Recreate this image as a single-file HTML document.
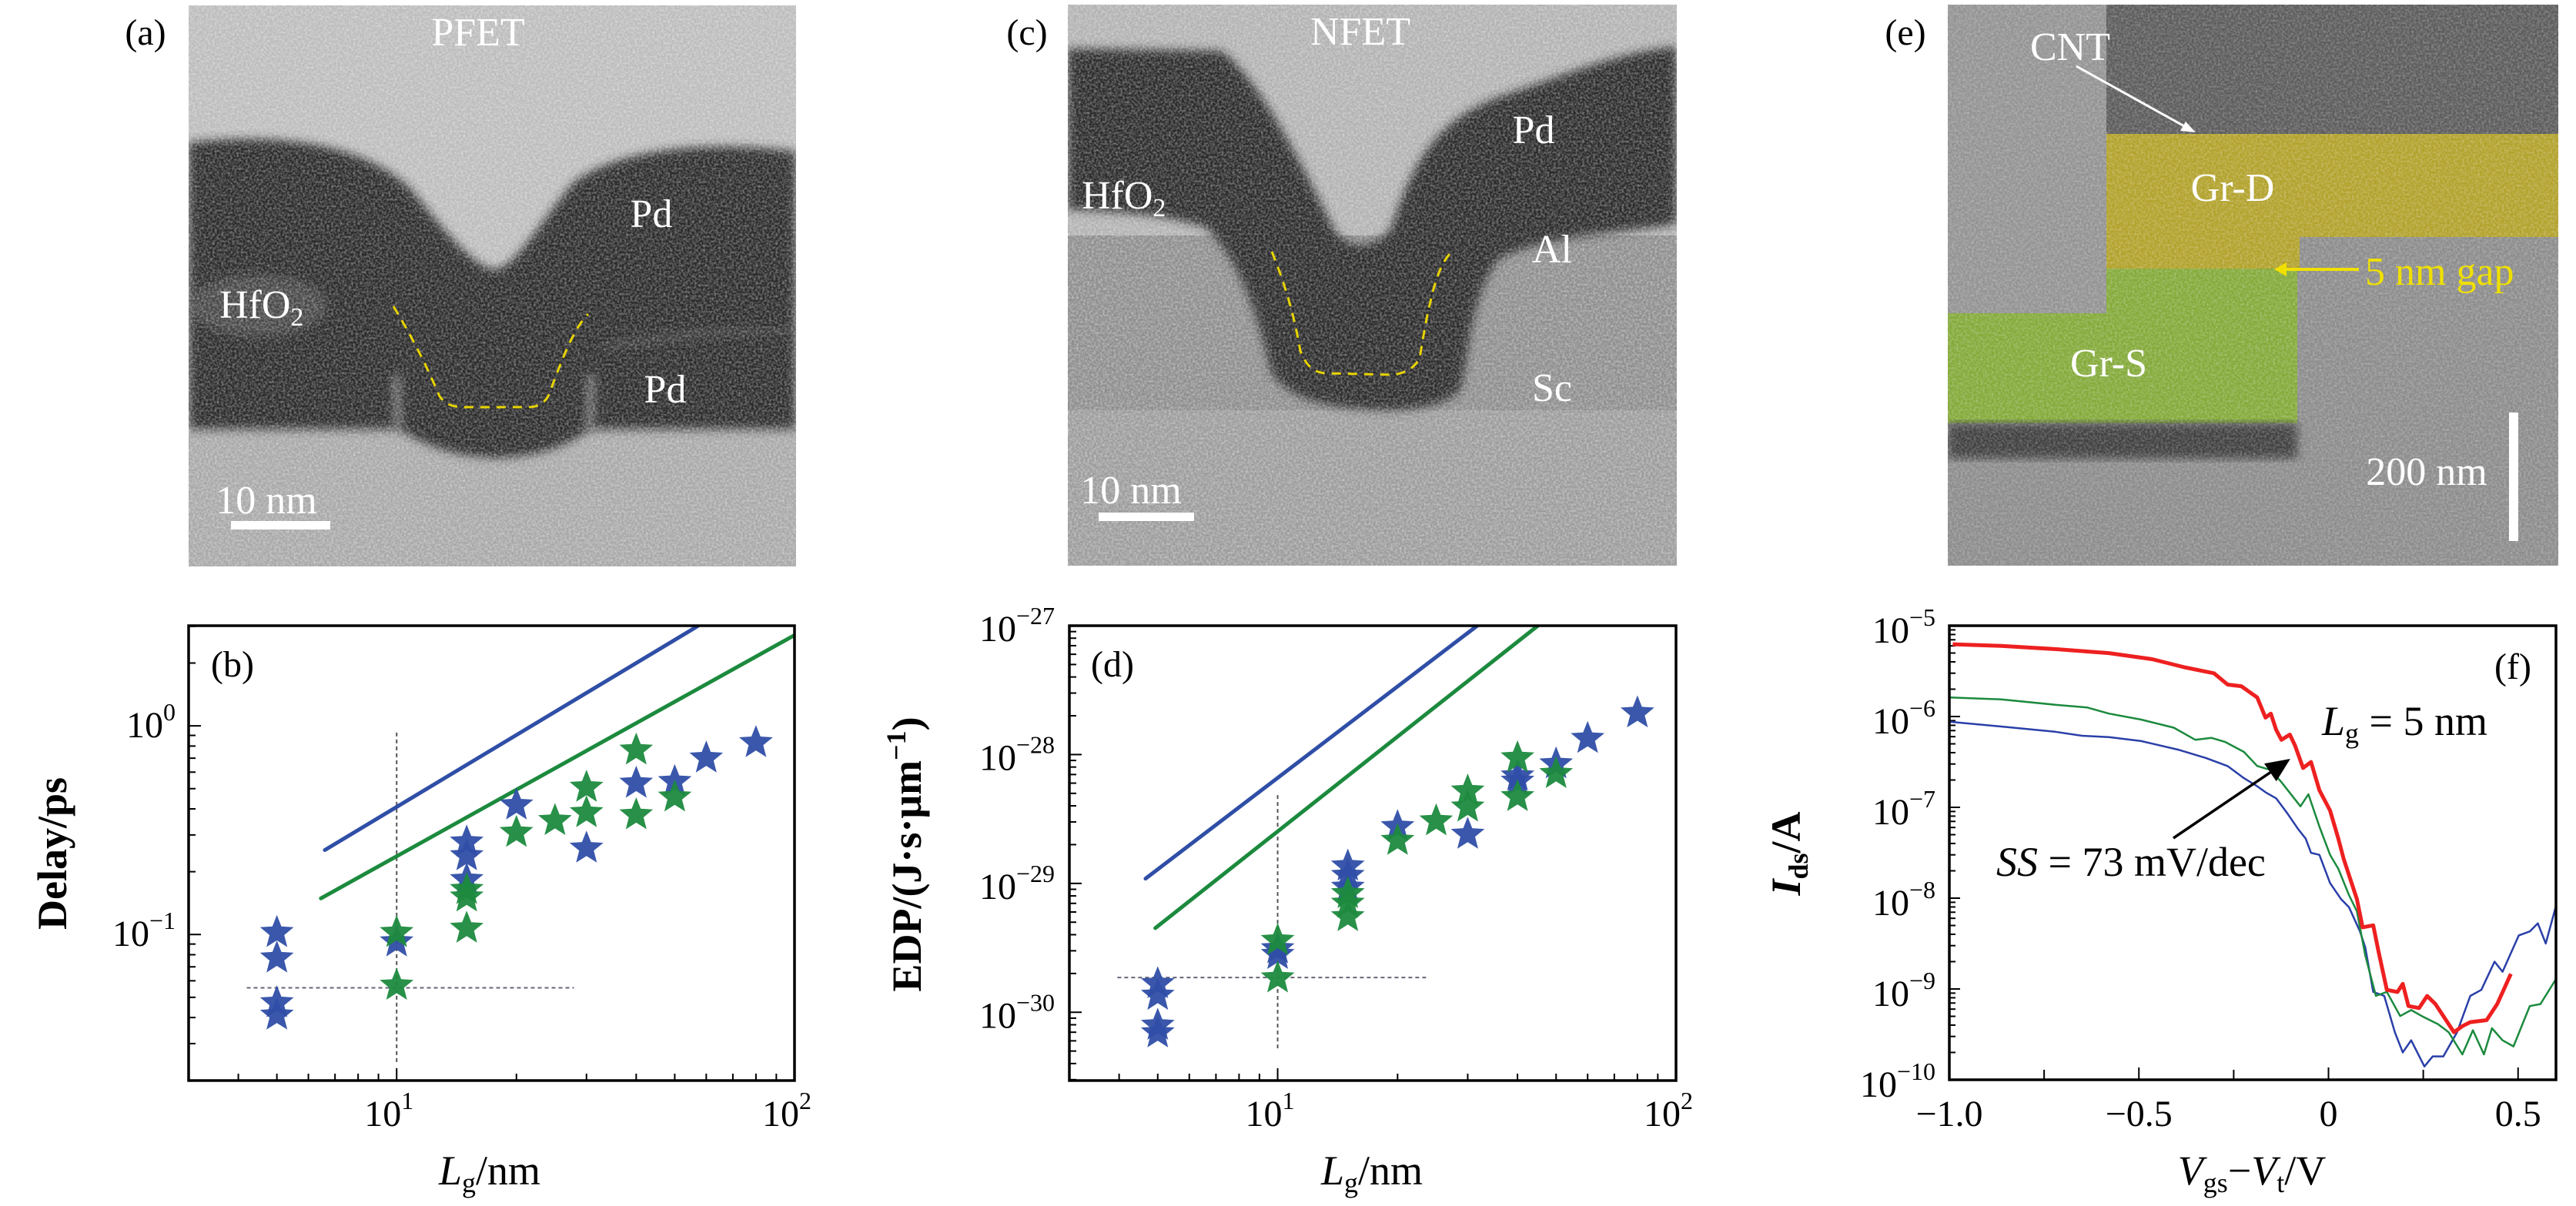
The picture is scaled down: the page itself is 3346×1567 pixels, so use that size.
<!DOCTYPE html>
<html><head><meta charset="utf-8"><style>
html,body{margin:0;padding:0;background:#fff;}
svg{display:block;}
text{font-family:"Liberation Serif",serif;}
</style></head><body>
<svg id="fig" xmlns="http://www.w3.org/2000/svg" width="3346" height="1567" viewBox="0 0 3346 1567">
<defs>
<filter id="noise" x="0" y="0" width="100%" height="100%">
<feTurbulence type="fractalNoise" baseFrequency="0.35" numOctaves="2" seed="3"/>
<feColorMatrix type="matrix" values="0 0 0 0 1  0 0 0 0 1  0 0 0 0 1  0 0 0 1.6 -0.55"/>
</filter>
<filter id="blur6"><feGaussianBlur stdDeviation="6"/></filter>
<clipPath id="clipA"><rect x="0" y="0" width="789" height="729"/></clipPath>
<clipPath id="clipC"><rect x="0" y="0" width="791" height="729"/></clipPath>
<clipPath id="clipE"><rect x="0" y="0" width="793" height="729"/></clipPath>
<clipPath id="clipB"><rect x="245" y="813" width="787" height="591"/></clipPath>
<clipPath id="clipD"><rect x="1389" y="813" width="788" height="591"/></clipPath>
<clipPath id="clipF"><rect x="2532" y="813" width="788" height="590"/></clipPath>
<marker id="arrB" markerWidth="10" markerHeight="10" refX="8" refY="5" orient="auto" markerUnits="strokeWidth"><path d="M0,1 L9,5 L0,9 Z" fill="#000"/></marker>
</defs>

<!-- Panel (a) -->
<text x="189" y="58" font-size="48" text-anchor="middle">(a)</text>
<g transform="translate(245,7)" clip-path="url(#clipA)">
<rect width="789" height="729" fill="#bcbcbc"/>
<rect y="551" width="789" height="178" fill="#a8a8a8"/>
<path d="M0,178 C120,165 230,180 290,240 C330,290 370,340 397,343 C425,340 450,290 500,230 C560,185 680,175 789,190 L789,551 L523,551 C505,560 480,585 400,588 C320,585 295,560 270,551 L0,551 Z" fill="#2b2b2b" filter="url(#blur6)"/>
<ellipse cx="90" cy="390" rx="90" ry="40" fill="#5a5a5a" opacity="0.6" filter="url(#blur6)"/>
<path d="M540,445 C620,430 700,420 789,420" stroke="#555" stroke-width="10" fill="none" opacity="0.6" filter="url(#blur6)"/>
<path d="M270,480 L272,551 M523,480 L521,551" stroke="#9a9a9a" stroke-width="7" fill="none" filter="url(#blur6)"/>
<rect width="789" height="729" filter="url(#noise)" opacity="0.5"/>
<path d="M266,391 C290,430 310,470 326,508 C335,520 345,522 360,522 L441,522 C455,522 465,515 469,503 C485,460 500,420 519,401" stroke="#e8d400" stroke-width="3" stroke-dasharray="12,9" fill="none"/>
<text x="376" y="52" font-size="52" fill="#fff" text-anchor="middle">PFET</text>
<text x="601" y="288" font-size="52" fill="#fff" text-anchor="middle">Pd</text>
<text x="40" y="406" font-size="52" fill="#fff">HfO<tspan font-size="34" dy="10">2</tspan></text>
<text x="619" y="516" font-size="52" fill="#fff" text-anchor="middle">Pd</text>
<text x="101" y="660" font-size="52" fill="#fff" text-anchor="middle">10 nm</text>
<rect x="55" y="670" width="129" height="11" fill="#fff"/>
</g>

<!-- Panel (c) -->
<text x="1334" y="58" font-size="48" text-anchor="middle">(c)</text>
<g transform="translate(1387,6)" clip-path="url(#clipC)">
<rect width="791" height="729" fill="#8e8e8e"/>
<rect width="791" height="300" fill="#b2b2b2"/>
<rect y="527" width="791" height="202" fill="#9c9c9c"/>
<path d="M0,57 L200,60 C250,100 300,200 345,290 C360,320 400,320 420,290 C450,200 480,150 560,120 C650,90 720,60 791,55 L791,285 C700,300 620,300 560,330 C520,380 520,470 510,500 C490,525 430,530 380,525 C320,520 290,510 265,480 C250,420 230,340 180,290 C120,270 60,270 0,266 Z" fill="#2c2c2c" filter="url(#blur6)"/>
<rect width="791" height="729" filter="url(#noise)" opacity="0.5"/>
<path d="M265,321 C285,370 295,410 302,450 C310,470 320,479 338,479 L422,481 C440,479 452,470 457,459 C462,430 466,405 472,382 C478,355 486,335 496,324" stroke="#e8d400" stroke-width="3" stroke-dasharray="12,9" fill="none"/>
<text x="380" y="52" font-size="52" fill="#fff" text-anchor="middle">NFET</text>
<text x="605" y="180" font-size="52" fill="#fff" text-anchor="middle">Pd</text>
<text x="18" y="265" font-size="52" fill="#fff">HfO<tspan font-size="34" dy="10">2</tspan></text>
<text x="629" y="335" font-size="52" fill="#fff" text-anchor="middle">Al</text>
<text x="629" y="515" font-size="52" fill="#fff" text-anchor="middle">Sc</text>
<text x="82" y="648" font-size="52" fill="#fff" text-anchor="middle">10 nm</text>
<rect x="40" y="660" width="124" height="11" fill="#fff"/>
</g>

<!-- Panel (e) -->
<text x="2475" y="58" font-size="48" text-anchor="middle">(e)</text>
<g transform="translate(2530,6)" clip-path="url(#clipE)">
<rect width="793" height="729" fill="#8c8c8c"/>
<rect x="206" width="587" height="168" fill="#5c5c5c"/>
<rect x="0" width="206" height="401" fill="#939393"/>
<path d="M206,168 L793,168 L793,302 L457,302 L457,343 L206,343 Z" fill="#b2a22c"/>
<path d="M206,343 L454,343 L454,544 L0,544 L0,401 L206,401 Z" fill="#84aa3a"/>
<path d="M0,544 L454,544 L454,590 L0,590 Z" fill="#3f3f3f" filter="url(#blur6)"/>
<rect width="793" height="729" filter="url(#noise)" opacity="0.35"/>
<text x="159" y="72" font-size="52" fill="#fff" text-anchor="middle">CNT</text>
<line x1="167" y1="80" x2="318" y2="164" stroke="#fff" stroke-width="3"/>
<path d="M322,166 L302,164 L309,152 Z" fill="#fff"/>
<text x="370" y="255" font-size="52" fill="#fff" text-anchor="middle">Gr-D</text>
<text x="209" y="483" font-size="52" fill="#fff" text-anchor="middle">Gr-S</text>
<line x1="534" y1="344" x2="432" y2="344" stroke="#f0e000" stroke-width="4"/>
<path d="M424,344 L440,335 L440,353 Z" fill="#f0e000"/>
<text x="542" y="364" font-size="52" fill="#f0e000">5 nm gap</text>
<text x="622" y="624" font-size="52" fill="#fff" text-anchor="middle">200 nm</text>
<rect x="729" y="530" width="12" height="167" fill="#fff"/>
</g>

<g id="chartB"></g>
<g id="chartD"></g>
<g id="chartF"></g>
</svg>
<script>
// ---- Panel (b) data ----
const delayBlueLg = [5,5,5,5,10,15,15,15,20,30,40,50,60,80];
const delayBlueVal = [0.102,0.077,0.047,0.041,0.092,0.277,0.238,0.183,0.417,0.259,0.53,0.54,0.70,0.83];
const delayGreenLg = [10,10,15,15,15,20,25,30,30,40,40,50];
const delayGreenVal = [0.102,0.057,0.164,0.151,0.107,0.308,0.351,0.507,0.383,0.764,0.374,0.455];
const delayBlueFitLg = [6.6,57];
const delayBlueFitVal = [0.254,3.0];
const delayGreenFitLg = [6.45,100];
const delayGreenFitVal = [0.149,2.72];
const delayGuideVLg = [10,10];
const delayGuideVVal = [0.0245,0.93];
const delayGuideHLg = [4.2,27.9];
const delayGuideHVal = [0.0555,0.0555];
const delayYTickExp = [-1,0];
const delayXTickExp = [1,2];
// ---- Panel (d) data ----
const edpBlueLg = [5,5,5,5,10,10,15,15,15,20,30,40,40,50,60,80];
const edpBlueVal = [1.66e-30,1.35e-30,7.9e-31,6.9e-31,3.1e-30,2.8e-30,1.36e-29,1.15e-29,9.3e-30,2.75e-29,2.4e-29,6.8e-29,6.2e-29,8.45e-29,1.33e-28,2.1e-28];
const edpGreenLg = [10,10,15,15,15,20,25,30,30,40,40,50];
const edpGreenVal = [3.6e-30,1.84e-30,8.3e-30,7.0e-30,5.5e-30,2.15e-29,3.05e-29,5.2e-29,3.9e-29,9.4e-29,4.7e-29,7.1e-29];
const edpBlueFitLg = [4.66,31.7];
const edpBlueFitVal = [1.09e-29,1e-27];
const edpGreenFitLg = [4.93,45];
const edpGreenFitVal = [4.5e-30,1e-27];
const edpGuideVLg = [10,10];
const edpGuideVVal = [5.25e-31,5.0e-29];
const edpGuideHLg = [3.96,23.6];
const edpGuideHVal = [1.86e-30,1.86e-30];
const edpYTickExp = [-30,-29,-28,-27];
const edpXTickExp = [1,2];
// ---- Panel (f) data (V, log10 I) ----
const idsRedV = [-0.991,-0.863,-0.721,-0.579,-0.465,-0.380,-0.302,-0.266,-0.230,-0.188,-0.166,-0.152,-0.138,-0.124,-0.102,-0.088,-0.067,-0.046,-0.024,0.004,0.026,0.040,0.061,0.075,0.090,0.118,0.132,0.154,0.182,0.196,0.211,0.239,0.260,0.282,0.310,0.331,0.353,0.374,0.417,0.445,0.481];
const idsRedLog = [-5.204,-5.222,-5.258,-5.302,-5.369,-5.458,-5.524,-5.648,-5.666,-5.790,-6.012,-5.968,-6.146,-6.257,-6.199,-6.323,-6.567,-6.501,-6.812,-7.034,-7.345,-7.567,-7.833,-8.010,-8.321,-8.299,-8.588,-9.010,-9.033,-8.944,-9.188,-9.210,-9.077,-9.166,-9.343,-9.476,-9.409,-9.365,-9.343,-9.165,-8.834];
const idsGreenV = [-1.0,-0.863,-0.721,-0.636,-0.579,-0.494,-0.408,-0.351,-0.309,-0.273,-0.223,-0.188,-0.152,-0.124,-0.074,-0.053,-0.024,0.004,0.026,0.054,0.075,0.097,0.125,0.154,0.189,0.218,0.246,0.289,0.317,0.353,0.381,0.410,0.431,0.459,0.488,0.531,0.559,0.602];
const idsGreenLog = [-5.790,-5.812,-5.870,-5.901,-5.968,-6.034,-6.123,-6.257,-6.235,-6.279,-6.390,-6.545,-6.590,-6.723,-6.989,-6.856,-7.212,-7.522,-7.677,-7.966,-8.144,-8.632,-9.076,-9.032,-9.298,-9.232,-9.298,-9.387,-9.476,-9.720,-9.454,-9.720,-9.432,-9.565,-9.632,-9.188,-9.166,-8.877];
const idsBlueV = [-1.0,-0.863,-0.721,-0.650,-0.579,-0.494,-0.394,-0.323,-0.266,-0.223,-0.188,-0.166,-0.138,-0.110,-0.081,-0.060,-0.046,-0.024,0.004,0.033,0.054,0.083,0.097,0.118,0.147,0.175,0.196,0.218,0.253,0.275,0.303,0.339,0.374,0.403,0.438,0.459,0.502,0.531,0.552,0.573,0.602];
const idsBlueLog = [-6.057,-6.110,-6.168,-6.212,-6.226,-6.270,-6.368,-6.457,-6.546,-6.679,-6.768,-6.834,-6.901,-7.057,-7.234,-7.345,-7.501,-7.523,-7.833,-8.010,-8.099,-8.366,-8.543,-9.032,-9.076,-9.476,-9.698,-9.565,-9.853,-9.742,-9.742,-9.476,-9.076,-9.010,-8.699,-8.810,-8.410,-8.366,-8.277,-8.499,-8.055];
const idsXTickVals = [-1.0,-0.5,0,0.5];
const idsXTickLabels = ["\u22121.0","\u22120.5","0","0.5"];
const idsXMinor = [-0.75,-0.25,0.25];
const idsYTickExp = [-10,-9,-8,-7,-6,-5];

const NS = 'http://www.w3.org/2000/svg';
const BLUE = '#2f4ea6', GREEN = '#1c8a3e';
function mk(tag, attrs, parent){
  const e = document.createElementNS(NS, tag);
  for (const k in attrs) e.setAttribute(k, attrs[k]);
  parent.appendChild(e);
  return e;
}
function starPath(cx, cy, R, r){
  let d = '';
  for (let i = 0; i < 10; i++){
    const a = -Math.PI/2 + i*Math.PI/5;
    const rr = i % 2 ? r : R;
    d += (i ? 'L' : 'M') + (cx + rr*Math.cos(a)).toFixed(1) + ',' + (cy + rr*Math.sin(a)).toFixed(1);
  }
  return d + 'Z';
}
function logScale(d0, d1, r0, r1){ return v => r0 + (Math.log10(v) - d0)/(d1 - d0)*(r1 - r0); }
function linScale(d0, d1, r0, r1){ return v => r0 + (v - d0)/(d1 - d0)*(r1 - r0); }
function powLabel(parent, x, y, exp, anchor){
  const t = mk('text', {x:x, y:y, 'font-size':48, 'text-anchor':anchor}, parent);
  
  
  t.appendChild(document.createTextNode('10'));
  const s = mk('tspan', {dy:-22, 'font-size':32}, t);
  s.textContent = exp < 0 ? '\u2212' + (-exp) : String(exp);
  return t;
}

function logChart(g, box, xd, yd, cfg){
  const sx = logScale(xd[0], xd[1], box.x0, box.x1);
  const sy = logScale(yd[0], yd[1], box.y1, box.y0);
  for (let e = Math.floor(xd[0]); e <= Math.ceil(xd[1]); e++){
    for (let m = 1; m < 10; m++){
      const v = m*Math.pow(10, e);
      const lv = Math.log10(v);
      if (lv < xd[0] - 1e-6 || lv > xd[1] + 1e-6) continue;
      const x = sx(v);
      const len = m === 1 ? 16 : 9;
      const tk = mk('line', {x1:x, x2:x, y1:box.y1, y2:box.y1 - len, stroke:'#000', 'stroke-width':2}, g);
      
      
    }
  }
  for (let e = Math.floor(yd[0]); e <= Math.ceil(yd[1]); e++){
    for (let m = 1; m < 10; m++){
      const lv = Math.log10(m) + e;
      if (lv < yd[0] - 1e-6 || lv > yd[1] + 1e-6) continue;
      const y = box.y1 + (lv - yd[0])/(yd[1] - yd[0])*(box.y0 - box.y1);
      const len = m === 1 ? 16 : 9;
      const tk = mk('line', {x1:box.x0, x2:box.x0 + len, y1:y, y2:y, stroke:'#000', 'stroke-width':2}, g);
      
      
    }
  }
  cfg.xTickExp.forEach(e => { powLabel(g, box.x0 + (e - xd[0])/(xd[1]-xd[0])*(box.x1-box.x0) - 10, 1463, e, 'middle'); });
  cfg.yTickExp.forEach(e => {
    const y = box.y1 + (e - yd[0])/(yd[1]-yd[0])*(box.y0 - box.y1);
    powLabel(g, cfg.yLabRight, y + cfg.yLabDy, e, 'end');
  });
  const plot = mk('g', {'clip-path':cfg.clip}, g);
  
  
  const gv = mk('line', {x1:sx(cfg.gvx[0]), x2:sx(cfg.gvx[1]), y1:sy(cfg.gvy[0]), y2:sy(cfg.gvy[1]), stroke:'#555', 'stroke-width':2, 'stroke-dasharray':'5,4'}, plot);
  
  
  const gh = mk('line', {x1:sx(cfg.ghx[0]), x2:sx(cfg.ghx[1]), y1:sy(cfg.ghy[0]), y2:sy(cfg.ghy[1]), stroke:'#667', 'stroke-width':2, 'stroke-dasharray':'5,4'}, plot);
  
  
  const fb = mk('line', {x1:sx(cfg.fbx[0]), x2:sx(cfg.fbx[1]), y1:sy(cfg.fby[0]), y2:sy(cfg.fby[1]), stroke:BLUE, 'stroke-width':5, 'stroke-linecap':'round'}, plot);
  
  
  const fg = mk('line', {x1:sx(cfg.fgx[0]), x2:sx(cfg.fgx[1]), y1:sy(cfg.fgy[0]), y2:sy(cfg.fgy[1]), stroke:GREEN, 'stroke-width':5, 'stroke-linecap':'round'}, plot);
  
  
  cfg.bx.forEach((v, i) => {
    const s = mk('path', {d:starPath(sx(v), sy(cfg.by[i]), 23, 10), fill:BLUE, opacity:0.95}, plot);
    
    
  });
  cfg.gx.forEach((v, i) => {
    const s = mk('path', {d:starPath(sx(v), sy(cfg.gy[i]), 23, 10), fill:GREEN, opacity:0.95}, plot);
    
    
  });
  const fr = mk('rect', {x:box.x0, y:box.y0, width:box.x1-box.x0, height:box.y1-box.y0, fill:'none', stroke:'#000', 'stroke-width':3.5}, g);
  
  
}

const gB = document.getElementById('chartB');
logChart(gB, {x0:245, x1:1032, y0:813, y1:1404}, [Math.log10(3), 2], [-1.70, 0.48], {
  xTickExp:delayXTickExp, yTickExp:delayYTickExp, yLabRight:228, yLabDy:15, clip:'url(#clipB)',
  gvx:delayGuideVLg, gvy:delayGuideVVal, ghx:delayGuideHLg, ghy:delayGuideHVal,
  fbx:delayBlueFitLg, fby:delayBlueFitVal, fgx:delayGreenFitLg, fgy:delayGreenFitVal,
  bx:delayBlueLg, by:delayBlueVal, gx:delayGreenLg, gy:delayGreenVal
});
const gD = document.getElementById('chartD');
logChart(gD, {x0:1389, x1:2177, y0:813, y1:1404}, [Math.log10(3), 2], [-30.53, -27], {
  xTickExp:edpXTickExp, yTickExp:edpYTickExp, yLabRight:1370, yLabDy:20, clip:'url(#clipD)',
  gvx:edpGuideVLg, gvy:edpGuideVVal, ghx:edpGuideHLg, ghy:edpGuideHVal,
  fbx:edpBlueFitLg, fby:edpBlueFitVal, fgx:edpGreenFitLg, fgy:edpGreenFitVal,
  bx:edpBlueLg, by:edpBlueVal, gx:edpGreenLg, gy:edpGreenVal
});

const gF = document.getElementById('chartF');
const fx = linScale(-1, 0.6, 2532, 3320);
const fy = linScale(-10, -5, 1403, 813);
idsXTickVals.forEach((v, i) => {
  const tk = mk('line', {x1:fx(v), x2:fx(v), y1:1403, y2:1387, stroke:'#000', 'stroke-width':2}, gF);
  
  
  const t = mk('text', {x:fx(v), y:1463, 'font-size':48, 'text-anchor':'middle'}, gF);
  
  
  t.textContent = idsXTickLabels[i];
});
idsXMinor.forEach(v => {
  const tk = mk('line', {x1:fx(v), x2:fx(v), y1:1403, y2:1390, stroke:'#000', 'stroke-width':2}, gF);
  
  
});
for (let e = -10; e < -5; e++){
  for (let m = 1; m < 10; m++){
    const y = fy(e + Math.log10(m));
    const tk = mk('line', {x1:2532, x2:2532 + (m === 1 ? 14 : 8), y1:y, y2:y, stroke:'#000', 'stroke-width':2}, gF);
    
    
  }
}
idsYTickExp.forEach(e => { powLabel(gF, 2514, fy(e) + 22, e, 'end'); });
const plotF = mk('g', {'clip-path':'url(#clipF)'}, gF);


function curve(xs, ys, color, w){
  const d = xs.map((v, i) => (i ? 'L' : 'M') + fx(v).toFixed(1) + ',' + fy(ys[i]).toFixed(1)).join('');
  return mk('path', {d:d, stroke:color, 'stroke-width':w, fill:'none', 'stroke-linejoin':'round'}, plotF);
}
const cB = curve(idsBlueV, idsBlueLog, '#2a3fa8', 2.5);


const cG = curve(idsGreenV, idsGreenLog, '#1c8a3e', 2.5);


const cR = curve(idsRedV, idsRedLog, '#ee2020', 5);


const frF = mk('rect', {x:2532, y:813, width:788, height:590, fill:'none', stroke:'#000', 'stroke-width':3.5}, gF);


</script>
<script>
const fig = document.getElementById('fig');
function addText(html, attrs){
  const t = document.createElementNS(NS, 'text');
  for (const k in attrs) t.setAttribute(k, attrs[k]);
  t.innerHTML = html;
  fig.appendChild(t);
  return t;
}
let t;
t = addText('(b)', {x:302, y:879, 'font-size':48, 'text-anchor':'middle'});


t = addText('(d)', {x:1445, y:879, 'font-size':48, 'text-anchor':'middle'});


t = addText('(f)', {x:3264, y:882, 'font-size':48, 'text-anchor':'middle'});


t = addText('Delay/ps', {x:0, y:0, 'font-size':54, 'font-weight':'bold', 'text-anchor':'middle', transform:'translate(86,1109) rotate(-90)'});


t = addText('EDP/(J·s·μm<tspan dy="-20" font-size="36">−1</tspan><tspan dy="20">)</tspan>', {x:0, y:0, 'font-size':54, 'font-weight':'bold', 'text-anchor':'middle', transform:'translate(1196,1110) rotate(-90)'});


t = addText('<tspan font-style="italic">I</tspan><tspan font-size="36" dy="10">ds</tspan><tspan dy="-10">/A</tspan>', {x:0, y:0, 'font-size':54, 'font-weight':'bold', 'text-anchor':'middle', transform:'translate(2338,1109) rotate(-90)'});


t = addText('<tspan font-style="italic">L</tspan><tspan font-size="36" dy="10">g</tspan><tspan dy="-10">/nm</tspan>', {x:636, y:1539, 'font-size':54, 'text-anchor':'middle'});


t = addText('<tspan font-style="italic">L</tspan><tspan font-size="36" dy="10">g</tspan><tspan dy="-10">/nm</tspan>', {x:1782, y:1539, 'font-size':54, 'text-anchor':'middle'});


t = addText('<tspan font-style="italic">V</tspan><tspan font-size="36" dy="10">gs</tspan><tspan dy="-10">−</tspan><tspan font-style="italic">V</tspan><tspan font-size="36" dy="10">t</tspan><tspan dy="-10">/V</tspan>', {x:2925, y:1539, 'font-size':54, 'text-anchor':'middle'});


t = addText('<tspan font-style="italic">L</tspan><tspan font-size="36" dy="10">g</tspan><tspan dy="-10"> = 5 nm</tspan>', {x:3016, y:955, 'font-size':54});


t = addText('<tspan font-style="italic">SS</tspan> = 73 mV/dec', {x:2593, y:1138, 'font-size':54});


const arr = document.createElementNS(NS, 'line');
arr.setAttribute('x1', 2823); arr.setAttribute('y1', 1089);
arr.setAttribute('x2', 2972); arr.setAttribute('y2', 988);
arr.setAttribute('stroke', '#000'); arr.setAttribute('stroke-width', 3.5);
arr.setAttribute('marker-end', 'url(#arrB)');


fig.appendChild(arr);
</script>
</body></html>
